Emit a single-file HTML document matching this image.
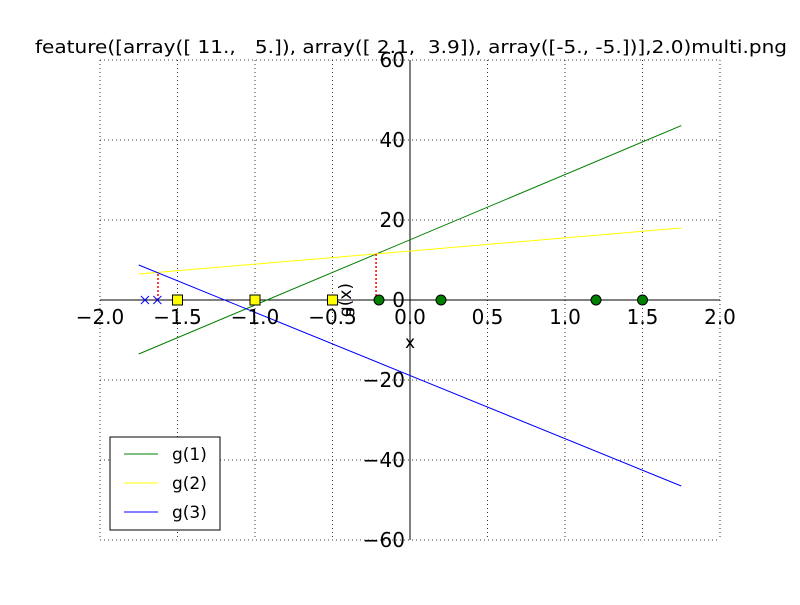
<!DOCTYPE html>
<html><head><meta charset="utf-8"><style>
body{margin:0;background:#fff;}
svg text{font-family:"DejaVu Sans","Liberation Sans",sans-serif;}
</style></head><body>
<svg id="c" width="800" height="600" xmlns="http://www.w3.org/2000/svg">
<rect width="800" height="600" fill="#fff"/>
<text x="35" y="53" font-size="18" textLength="752" lengthAdjust="spacingAndGlyphs" style="white-space:pre" xml:space="preserve">feature([array([ 11.,   5.]), array([ 2.1,  3.9]), array([-5., -5.])],2.0)multi.png</text>
<g id="grid"></g><g id="marks"></g><g id="ticks"></g>
<text x="410" y="348" font-size="17" text-anchor="middle">x</text>
<text transform="translate(351,300) rotate(-90)" font-size="17" text-anchor="middle">g(x)</text>
<g>
<rect x="110" y="437" width="110" height="93" fill="#fff" stroke="#000"/>
<line x1="124" y1="454" x2="158" y2="454" stroke="green"/>
<text x="172" y="460" font-size="17">g(1)</text>
<line x1="124" y1="483" x2="158" y2="483" stroke="#ffff00"/>
<text x="172" y="489" font-size="17">g(2)</text>
<line x1="124" y1="512" x2="158" y2="512" stroke="blue"/>
<text x="172" y="518" font-size="17">g(3)</text>
</g>
</svg>
<script>
const xTicks=[-2,-1.5,-1,-0.5,0,0.5,1,1.5,2];
const xTickLabels=["\u22122.0","\u22121.5","\u22121.0","\u22120.5","0.0","0.5","1.0","1.5","2.0"];
const yTicks=[-60,-40,-20,0,20,40,60];
const yTickLabels=["\u221260","\u221240","\u221220","0","20","40","60"];
const lineX=[-1.75,1.75];
const g1=[-13.5,43.6];
const g2=[6.5,18];
const g3=[8.75,-46.5];
const squaresX=[-1.5,-1,-0.5];
const circlesX=[-0.2,0.2,1.2,1.5];
const crossesX=[-1.71,-1.63];
const dropX=[-1.626,-0.219];
const dropY=[7,11.5];
const NS="http://www.w3.org/2000/svg";
const sx=v=>410+v*155, sy=v=>300-v*4;
function mk(p,t,a){const e=document.createElementNS(NS,t);for(const k in a)e.setAttribute(k,a[k]);document.getElementById(p).appendChild(e);return e;}
xTicks.forEach((t,i)=>{
 const g=mk('grid','line',{x1:sx(t),x2:sx(t),y1:60,y2:540,stroke:'#000','stroke-dasharray':'1,3','stroke-width':0.8});
 
 
 const l=mk('ticks','text',{x:sx(t),y:324,'font-size':20,'text-anchor':'middle'});l.textContent=xTickLabels[i];
 
 
});
yTicks.forEach((t,i)=>{
 const g=mk('grid','line',{x1:100,x2:720,y1:sy(t),y2:sy(t),stroke:'#000','stroke-dasharray':'1,3','stroke-width':0.8});
 
 
 const l=mk('ticks','text',{x:405,y:sy(t)+7,'font-size':20,'text-anchor':'end'});l.textContent=yTickLabels[i];
 
 
});
let a=mk('grid','line',{x1:100,x2:720,y1:sy(0),y2:sy(0),stroke:'#000'});


a=mk('grid','line',{x1:sx(0),x2:sx(0),y1:60,y2:540,stroke:'#000'});


[[g1,'green','line-g1'],[g2,'#ffff00','line-g2'],[g3,'blue','line-g3']].forEach(([s,c,n])=>{
 const e=mk('marks','line',{x1:sx(lineX[0]),y1:sy(s[0]),x2:sx(lineX[1]),y2:sy(s[1]),stroke:c});
 
 
});
dropX.forEach((x,i)=>{
 const e=mk('marks','line',{x1:sx(x),x2:sx(x),y1:sy(0),y2:sy(dropY[i]),stroke:'red','stroke-width':1.5,'stroke-dasharray':'2,2'});
 
 
});
squaresX.forEach(x=>{
 const e=mk('marks','rect',{x:sx(x)-5,y:sy(0)-5,width:10,height:10,fill:'#ffff00',stroke:'#000'});
 
 
});
circlesX.forEach(x=>{
 const e=mk('marks','circle',{cx:sx(x),cy:sy(0),r:5,fill:'green',stroke:'#000'});
 
 
});
crossesX.forEach(x=>{
 const e=mk('marks','path',{d:`M${sx(x)-4},${sy(0)-4}L${sx(x)+4},${sy(0)+4}M${sx(x)-4},${sy(0)+4}L${sx(x)+4},${sy(0)-4}`,stroke:'blue',fill:'none'});
 
 
});
</script>
</body></html>
